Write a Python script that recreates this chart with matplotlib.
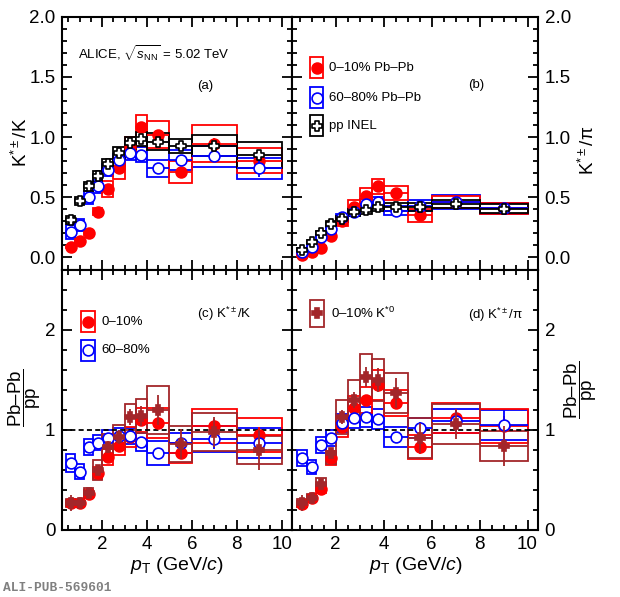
import numpy as np
import matplotlib
matplotlib.use('Agg')
import matplotlib.pyplot as plt
from matplotlib.patches import Rectangle
from matplotlib.path import Path
from matplotlib.lines import Line2D
from matplotlib.ticker import MultipleLocator, FormatStrFormatter

plt.rcParams['font.family'] = ['Liberation Sans', 'DejaVu Sans']
plt.rcParams['mathtext.fontset'] = 'custom'
plt.rcParams['mathtext.rm'] = 'Liberation Sans'
plt.rcParams['mathtext.it'] = 'Liberation Sans:italic'
plt.rcParams['mathtext.bf'] = 'Liberation Sans:bold'

# pT bins (GeV/c)
pt_lo = [0.4, 0.8, 1.2, 1.6, 2.0, 2.5, 3.0, 3.5, 4.0, 5.0, 6.0, 8.0]
pt_hi = [0.8, 1.2, 1.6, 2.0, 2.5, 3.0, 3.5, 4.0, 5.0, 6.0, 8.0, 10.0]

# (a) K*+-/K
kk_pp = [0.31, 0.47, 0.59, 0.675, 0.775, 0.865, 0.95, 0.985, 0.96, 0.925, 0.93, 0.85]
kk_pp_stat = [0.005, 0.005, 0.006, 0.007, 0.008, 0.01, 0.012, 0.015, 0.015, 0.02, 0.025, 0.04]
kk_pp_sys = [0.035, 0.035, 0.04, 0.045, 0.045, 0.05, 0.05, 0.055, 0.07, 0.06, 0.085, 0.11]
kk_010 = [0.085, 0.135, 0.205, 0.38, 0.57, 0.74, 0.92, 1.08, 1.02, 0.71, 0.945, 0.805]
kk_010_stat = [0.005, 0.006, 0.008, 0.01, 0.015, 0.02, 0.025, 0.03, 0.03, 0.04, 0.05, 0.07]
kk_010_sys = [0.01, 0.015, 0.02, 0.03, 0.065, 0.085, 0.08, 0.105, 0.11, 0.09, 0.155, 0.105]
kk_6080 = [0.21, 0.267, 0.5, 0.59, 0.73, 0.81, 0.87, 0.855, 0.74, 0.81, 0.84, 0.74]
kk_6080_stat = [0.006, 0.008, 0.01, 0.012, 0.015, 0.02, 0.02, 0.025, 0.03, 0.04, 0.05, 0.07]
kk_6080_sys = [0.06, 0.05, 0.055, 0.055, 0.05, 0.05, 0.06, 0.065, 0.07, 0.08, 0.09, 0.09]

# (b) K*+-/pi
kpi_pp = [0.064, 0.128, 0.2, 0.28, 0.32, 0.375, 0.395, 0.42, 0.42, 0.42, 0.445, 0.405]
kpi_pp_stat = [0.002, 0.003, 0.003, 0.004, 0.004, 0.005, 0.006, 0.007, 0.007, 0.01, 0.012, 0.02]
kpi_pp_sys = [0.015, 0.018, 0.02, 0.025, 0.028, 0.03, 0.03, 0.035, 0.035, 0.035, 0.035, 0.035]
kpi_010 = [0.02, 0.044, 0.08, 0.18, 0.30, 0.42, 0.51, 0.59, 0.535, 0.35, 0.46, 0.41]
kpi_010_stat = [0.002, 0.003, 0.004, 0.005, 0.008, 0.01, 0.012, 0.015, 0.015, 0.02, 0.025, 0.03]
kpi_010_sys = [0.008, 0.01, 0.015, 0.02, 0.04, 0.06, 0.065, 0.06, 0.055, 0.055, 0.05, 0.045]
kpi_6080 = [0.044, 0.086, 0.17, 0.24, 0.335, 0.38, 0.445, 0.46, 0.39, 0.43, 0.46, 0.41]
kpi_6080_stat = [0.002, 0.003, 0.004, 0.005, 0.008, 0.01, 0.012, 0.015, 0.015, 0.02, 0.025, 0.03]
kpi_6080_sys = [0.015, 0.018, 0.02, 0.025, 0.03, 0.035, 0.04, 0.045, 0.04, 0.045, 0.06, 0.045]

# (c) Pb-Pb/pp, K*+-/K
dr_kk_010 = [0.27, 0.27, 0.36, 0.57, 0.73, 0.84, 0.93, 1.1, 1.07, 0.77, 1.04, 0.95]
dr_kk_010_stat = [0.02, 0.02, 0.02, 0.02, 0.03, 0.03, 0.04, 0.05, 0.05, 0.06, 0.07, 0.08]
dr_kk_010_sys = [0.03, 0.03, 0.04, 0.06, 0.08, 0.09, 0.1, 0.12, 0.15, 0.1, 0.17, 0.17]
dr_kk_6080 = [0.67, 0.58, 0.83, 0.87, 0.92, 0.94, 0.94, 0.88, 0.77, 0.87, 0.91, 0.87]
dr_kk_6080_stat = [0.02, 0.02, 0.02, 0.02, 0.03, 0.03, 0.04, 0.05, 0.05, 0.06, 0.1, 0.12]
dr_kk_6080_sys = [0.09, 0.075, 0.08, 0.075, 0.08, 0.08, 0.08, 0.09, 0.12, 0.1, 0.13, 0.15]
dr_kk_k0 = [0.27, 0.27, 0.37, 0.6, 0.83, 0.93, 1.13, 1.14, 1.2, 0.86, 0.98, 0.8]
dr_kk_k0_stat = [0.08, 0.03, 0.03, 0.04, 0.06, 0.07, 0.08, 0.1, 0.15, 0.15, 0.15, 0.2]
dr_kk_k0_sys = [0.04, 0.04, 0.05, 0.1, 0.13, 0.12, 0.13, 0.17, 0.24, 0.18, 0.19, 0.14]

# (d) Pb-Pb/pp, K*+-/pi
dr_kpi_010 = [0.26, 0.32, 0.41, 0.72, 1.03, 1.22, 1.3, 1.45, 1.27, 0.83, 1.12, 1.04]
dr_kpi_010_stat = [0.02, 0.02, 0.02, 0.03, 0.03, 0.04, 0.04, 0.05, 0.06, 0.07, 0.08, 0.1]
dr_kpi_010_sys = [0.03, 0.03, 0.04, 0.07, 0.1, 0.12, 0.13, 0.15, 0.13, 0.12, 0.15, 0.17]
dr_kpi_6080 = [0.72, 0.63, 0.85, 0.92, 1.07, 1.12, 1.13, 1.11, 0.93, 1.02, 1.09, 1.05]
dr_kpi_6080_stat = [0.02, 0.02, 0.02, 0.02, 0.03, 0.03, 0.04, 0.05, 0.05, 0.06, 0.1, 0.15]
dr_kpi_6080_sys = [0.08, 0.07, 0.08, 0.08, 0.09, 0.1, 0.1, 0.1, 0.1, 0.1, 0.12, 0.15]
dr_kpi_k0 = [0.27, 0.32, 0.46, 0.77, 1.13, 1.3, 1.53, 1.5, 1.37, 0.92, 1.06, 0.84]
dr_kpi_k0_stat = [0.08, 0.03, 0.03, 0.05, 0.07, 0.08, 0.1, 0.12, 0.15, 0.15, 0.15, 0.2]
dr_kpi_k0_sys = [0.04, 0.04, 0.06, 0.11, 0.17, 0.2, 0.23, 0.21, 0.2, 0.2, 0.2, 0.15]

RED = '#ff0000'
BLUE = '#0000ff'
DRED = '#a3262a'

# open cross marker (ROOT style 28)
a = 0.36
cross_verts = [(-a, 1), (a, 1), (a, a), (1, a), (1, -a), (a, -a), (a, -1), (-a, -1),
               (-a, -a), (-1, -a), (-1, a), (-a, a), (-a, 1)]
open_cross = Path(cross_verts, [Path.MOVETO] + [Path.LINETO] * 11 + [Path.CLOSEPOLY])

pt_lo = np.array(pt_lo)
pt_hi = np.array(pt_hi)
pt = (pt_lo + pt_hi) / 2
half = (pt_hi - pt_lo) / 2

W, H = 620, 597
fig = plt.figure(figsize=(W / 100, H / 100), dpi=100)


def px(x, y):
    return x / W, 1 - y / H


top_b, top_h = 1 - 269.5 / H, (269.5 - 16.7) / H
bot_b, bot_h = 1 - 530 / H, (530 - 269.5) / H
l0, lw_ = 61.7 / W, 230 / W
r0, rw_ = 292.3 / W, 246 / W

ax_a = fig.add_axes([l0, top_b, lw_, top_h])
ax_b = fig.add_axes([r0, top_b, rw_, top_h])
ax_c = fig.add_axes([l0, bot_b, lw_, bot_h])
ax_d = fig.add_axes([r0, bot_b, rw_, bot_h])


def boxes(ax, y, sys, color):
    for lo, hi, v, s in zip(pt_lo, pt_hi, y, sys):
        ax.add_patch(Rectangle((lo, v - s), hi - lo, 2 * s, fill=False,
                               ec=color, lw=1.3, zorder=2))


def points(ax, y, stat, color, marker, mfc, ms, z):
    ax.errorbar(pt, y, xerr=half, yerr=stat, fmt='none', ecolor=color,
                elinewidth=1.3, capsize=0, zorder=z)
    ax.plot(pt, y, ls='none', marker=marker, ms=ms, mfc=mfc, mec=color,
            mew=1.2, zorder=z + 0.1)


# top panels
for ax, pp, pps, ppy, c0, c0s, c0y, c6, c6s, c6y in [
        (ax_a, kk_pp, kk_pp_stat, kk_pp_sys, kk_010, kk_010_stat, kk_010_sys,
         kk_6080, kk_6080_stat, kk_6080_sys),
        (ax_b, kpi_pp, kpi_pp_stat, kpi_pp_sys, kpi_010, kpi_010_stat, kpi_010_sys,
         kpi_6080, kpi_6080_stat, kpi_6080_sys)]:
    boxes(ax, c6, c6y, BLUE)
    boxes(ax, c0, c0y, RED)
    boxes(ax, pp, ppy, 'black')
    points(ax, c0, c0s, RED, 'o', RED, 7.8, 3)
    points(ax, c6, c6s, BLUE, 'o', 'white', 7.8, 3.3)
    points(ax, pp, pps, 'black', open_cross, 'white', 7.2, 3.6)
    ax.set_ylim(-0.1, 2.0)
    ax.yaxis.set_major_locator(MultipleLocator(0.5))
    ax.yaxis.set_minor_locator(MultipleLocator(0.1))
    ax.yaxis.set_major_formatter(FormatStrFormatter('%.1f'))

# bottom panels
for ax, r0v, r0s, r0y, b6, b6s, b6y, k0, k0s, k0y in [
        (ax_c, dr_kk_010, dr_kk_010_stat, dr_kk_010_sys, dr_kk_6080, dr_kk_6080_stat,
         dr_kk_6080_sys, dr_kk_k0, dr_kk_k0_stat, dr_kk_k0_sys),
        (ax_d, dr_kpi_010, dr_kpi_010_stat, dr_kpi_010_sys, dr_kpi_6080, dr_kpi_6080_stat,
         dr_kpi_6080_sys, dr_kpi_k0, dr_kpi_k0_stat, dr_kpi_k0_sys)]:
    boxes(ax, b6, b6y, BLUE)
    boxes(ax, r0v, r0y, RED)
    boxes(ax, k0, k0y, DRED)
    ax.axhline(1, color='black', ls=(0, (2.8, 1.8)), lw=1.3, zorder=2.5)
    points(ax, r0v, r0s, RED, 'o', RED, 7.8, 3)
    points(ax, b6, b6s, BLUE, 'o', 'white', 7.8, 3.3)
    points(ax, k0, k0s, DRED, 'P', DRED, 7.8, 3.6)
    ax.set_ylim(0, 2.6)
    ax.yaxis.set_major_locator(MultipleLocator(1))
    ax.yaxis.set_minor_locator(MultipleLocator(0.2))
    ax.yaxis.set_major_formatter(FormatStrFormatter('%d'))
    ax.set_xlabel(r'$p_{\mathrm{T}}$ (GeV/$c$)', fontsize=14, labelpad=1.5)

for ax in [ax_a, ax_b, ax_c, ax_d]:
    ax.set_xlim(0.2, 10.45)
    ax.xaxis.set_major_locator(MultipleLocator(2))
    ax.xaxis.set_minor_locator(MultipleLocator(0.5))
    ax.tick_params(which='both', direction='in', top=True, right=True,
                   width=1.3, labelsize=13.5, pad=4.5)
    ax.tick_params(which='major', length=7)
    ax.tick_params(which='minor', length=3.8)
    for sp in ax.spines.values():
        sp.set_linewidth(1.5)

for ax in [ax_a, ax_b]:
    ax.tick_params(labelbottom=False)
for ax in [ax_b, ax_d]:
    ax.tick_params(labelleft=False, labelright=True)

# texts
fig.text(*px(78, 54), r'ALICE, $\sqrt{s_{\mathrm{NN}}}$ = 5.02 TeV', fontsize=9.5,
         ha='left', va='center')
fig.text(*px(205, 86), '(a)', fontsize=9.5, ha='center', va='center')
fig.text(*px(476, 85), '(b)', fontsize=9.5, ha='center', va='center')
fig.text(*px(197, 314), r'(c) K$^{*\pm}$/K', fontsize=9.5, ha='left', va='center')
fig.text(*px(468, 315), r'(d) K$^{*\pm}$/π', fontsize=9.5, ha='left', va='center')

fig.text(*px(21, 142), r'K$^{*\pm}$/K', rotation=90, fontsize=13.5, ha='center', va='center')
fig.text(*px(588, 150), r'K$^{*\pm}$/π', rotation=90, fontsize=13.5, ha='center', va='center')
frac = r'$\dfrac{\mathrm{Pb–Pb}}{\mathrm{pp}}$'
fig.text(*px(25, 398), frac, rotation=90, fontsize=13.5, ha='center', va='center')
fig.text(*px(581, 390), frac, rotation=90, fontsize=13.5, ha='center', va='center')

fig.text(*px(3, 588), 'ALI-PUB-569601', family='Liberation Mono', weight='bold',
         color='#808080', fontsize=9.3, ha='left', va='center')


def legend_entry(x, y, w, h, color, marker, mfc, ms, label, tx):
    fx, fy = px(x - w / 2, y + h / 2)
    fig.add_artist(Rectangle((fx, fy), w / W, h / H, transform=fig.transFigure,
                             fill=False, ec=color, lw=1.3))
    fig.add_artist(Line2D([x / W], [1 - y / H], transform=fig.transFigure, ls='none',
                          marker=marker, ms=ms, mfc=mfc, mec=color, mew=1.2))
    fig.text(*px(tx, y), label, fontsize=9.5, ha='left', va='center')


legend_entry(316.5, 67.7, 13, 21, RED, 'o', RED, 7.8, '0–10% Pb–Pb', 329.3)
legend_entry(316.5, 97.7, 13, 21, BLUE, 'o', 'none', 7.8, '60–80% Pb–Pb', 329.3)
legend_entry(316.5, 125.5, 13, 21, 'black', open_cross, 'white', 7.2, 'pp INEL', 329.3)
legend_entry(88.3, 321.7, 14, 21, RED, 'o', RED, 7.8, '0–10%', 101.7)
legend_entry(88.3, 350, 14, 21, BLUE, 'o', 'none', 7.8, '60–80%', 101.7)
legend_entry(317.3, 313.3, 14, 27, DRED, 'P', DRED, 7.8, r'0–10% K$^{*0}$', 331)

fig.savefig('out.png', dpi=100)
